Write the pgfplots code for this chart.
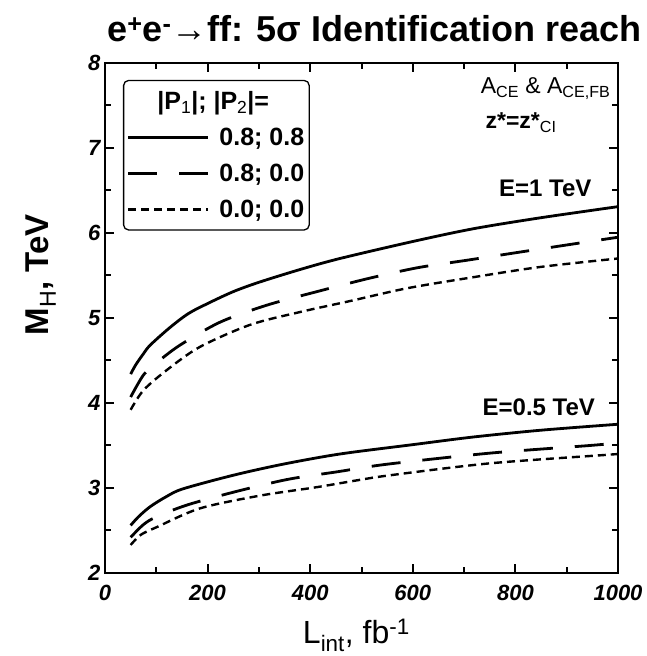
\documentclass[border=0pt]{standalone}
\usepackage{pgfplots}
\pgfplotsset{compat=1.18}
\usepackage{fontspec}
\setmainfont{Liberation Sans}
\usetikzlibrary{calc}
\begin{document}
\begin{tikzpicture}
\begin{axis}[name=ax,
  scale only axis, width=513pt, height=510pt,
  xmin=0, xmax=1000, ymin=2, ymax=8,
  xtick={0,200,...,1000}, ytick={2,3,...,8},
  minor x tick num=1, minor y tick num=1,
  tick align=inside,
  major tick length=9pt, minor tick length=6pt,
  axis line style={line width=2.6pt},
  every tick/.style={line width=2pt, black},
  /pgf/number format/assume math mode=true,
  /pgf/number format/1000 sep={},
  ticklabel style={font=\fontsize{22}{22}\selectfont\bfseries\itshape},
  xticklabel style={yshift=-9pt},
  yticklabel style={xshift=-1pt},
  xlabel={L\textsubscript{int}, fb\textsuperscript{-1}},
  xlabel style={font=\fontsize{32}{32}\selectfont, at={(axis description cs:0.49,-0.122)}, anchor=center},
  ylabel={\textbf{M}\textsubscript{H}\textbf{, TeV}},
  ylabel style={font=\fontsize{33}{33}\selectfont, at={(axis description cs:-0.125,0.585)}, anchor=center},
  legend style={at={(axis description cs:0.035,0.967)}, anchor=north west,
    draw=black, line width=1.3pt, rounded corners=5pt,
    font=\fontsize{25}{27}\selectfont\bfseries, row sep=13pt,
    inner xsep=3pt, inner ysep=9pt,
    /tikz/every odd column/.append style={column sep=8pt}},
  legend cell align=left,
  legend image code/.code={\draw[#1] (0pt,0pt) -- (80pt,0pt);},
]
\addlegendimage{empty legend}
\addlegendentry{\hspace{-62pt}|P\textsubscript{\mdseries 1}|; |P\textsubscript{\mdseries 2}|=}
\addlegendimage{line width=2.8pt}
\addlegendentry{0.8; 0.8}
\addlegendimage{line width=2.8pt, dash pattern=on 29pt off 22pt}
\addlegendentry{0.8; 0.0}
\addlegendimage{line width=2.4pt, dash pattern=on 8pt off 5pt}
\addlegendentry{0.0; 0.0}

% E = 1 TeV
\addplot[line width=2.8pt, smooth, forget plot] coordinates {
 (50,4.34) (60,4.45) (75,4.58) (88,4.68) (125,4.88) (162,5.05) (200,5.17) (250,5.31)
 (300,5.42) (380,5.57) (458,5.70) (600,5.90) (718,6.05) (850,6.18) (1000,6.31)};
\addplot[line width=2.8pt, smooth, dash pattern=on 29pt off 22pt, forget plot] coordinates {
 (50,4.07) (75,4.33) (100,4.47) (146,4.68) (224,4.95) (315,5.15) (413,5.31) (510,5.46)
 (608,5.59) (706,5.68) (803,5.77) (901,5.86) (1000,5.95)};
\addplot[line width=2.4pt, smooth, dash pattern=on 8pt off 5pt, forget plot] coordinates {
 (50,3.92) (75,4.15) (121,4.39) (185,4.66) (283,4.92) (380,5.07) (478,5.20) (589,5.35)
 (718,5.48) (848,5.60) (1000,5.70)};
% E = 0.5 TeV
\addplot[line width=2.8pt, smooth, forget plot] coordinates {
 (50,2.56) (65,2.66) (88,2.78) (120,2.90) (152,2.99) (250,3.15) (347,3.28) (458,3.40)
 (600,3.51) (718,3.60) (850,3.68) (1000,3.75)};
\addplot[line width=2.8pt, smooth, dash pattern=on 29pt off 22pt, forget plot] coordinates {
 (50,2.42) (75,2.57) (100,2.66) (160,2.80) (250,2.95) (355,3.10) (452,3.19) (550,3.28)
 (750,3.41) (945,3.50) (1000,3.53)};
\addplot[line width=2.4pt, smooth, dash pattern=on 8pt off 5pt, forget plot] coordinates {
 (50,2.33) (70,2.45) (101,2.54) (185,2.76) (302,2.91) (413,3.01) (491,3.09) (556,3.15)
 (750,3.29) (978,3.39) (1000,3.40)};

\node[anchor=east, font=\fontsize{23}{23}\selectfont] at (axis cs:992,7.70)
  {A\textsubscript{CE} \& A\textsubscript{CE,FB}};
\node[anchor=west, font=\fontsize{23}{23}\selectfont\bfseries] at (axis cs:735,7.30)
  {z*=z*\textsubscript{\mdseries CI}};
\node[anchor=east, font=\fontsize{24}{24}\selectfont\bfseries] at (axis cs:955,6.53) {E=1 TeV};
\node[anchor=east, font=\fontsize{24}{24}\selectfont\bfseries] at (axis cs:962,3.95) {E=0.5 TeV};
\end{axis}
\node[anchor=base, font=\fontsize{36}{36}\selectfont\bfseries] at ($(ax.north)+(13pt,21pt)$)
  {e\textsuperscript{+}e\textsuperscript{-}→ff: 5σ Identification reach};
\pgfresetboundingbox
\path[use as bounding box] ($(ax.south west)+(-105pt,-83pt)$) rectangle ($(ax.north east)+(28pt,63pt)$);
\end{tikzpicture}
\end{document}
